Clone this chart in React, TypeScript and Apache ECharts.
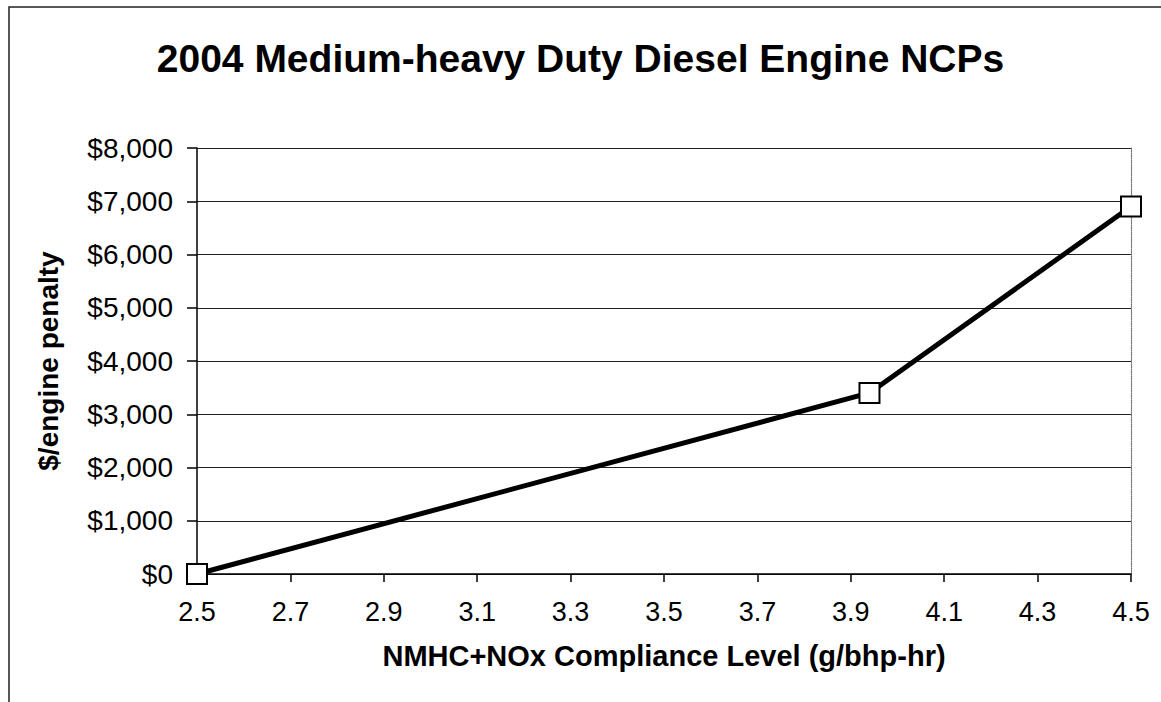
import React, { useEffect, useRef } from "react";
import * as echarts from "echarts";

const titleText = "2004 Medium-heavy Duty Diesel Engine NCPs";
const xAxisTitle = "NMHC+NOx Compliance Level (g/bhp-hr)";
const yAxisTitle = "$/engine penalty";
const complianceLevels = [2.5, 3.94, 4.5];
const penalties = [0, 3400, 6900];

const FONT = "'Liberation Sans', Arial, sans-serif";

export default function App() {
  const ref = useRef<HTMLDivElement>(null);
  useEffect(() => {
    if (!ref.current) return;
    const chart = echarts.init(ref.current, null, { renderer: "svg" });
    chart.setOption({
      animation: false,
      backgroundColor: "#ffffff",
      textStyle: { fontFamily: FONT },
      title: {
        text: titleText,
        left: "center",
        top: 34,
        textStyle: { fontFamily: FONT, fontSize: 39, fontWeight: "bold", color: "#000" },
      },
      graphic: [
        {
          type: "rect",
          shape: { x: 9, y: 7, width: 1300, height: 900 },
          style: { fill: "none", stroke: "#222", lineWidth: 1.5 },
          silent: true,
        },
      ],
      grid: { left: 197, top: 148, right: 30, bottom: 128 },
      xAxis: {
        type: "value",
        min: 2.5,
        max: 4.5,
        interval: 0.2,
        name: xAxisTitle,
        nameLocation: "middle",
        nameGap: 67,
        nameTextStyle: { fontFamily: FONT, fontSize: 29, fontWeight: "bold", color: "#000" },
        axisLine: { show: true, onZero: false, lineStyle: { color: "#000", width: 1.5 } },
        axisTick: { show: true, length: 8, lineStyle: { color: "#000", width: 1.5 } },
        axisLabel: {
          margin: 24,
          fontFamily: FONT,
          fontSize: 27,
          color: "#000",
          formatter: (v: number) => v.toFixed(1),
        },
        splitLine: { show: false },
      },
      yAxis: [
        {
          type: "value",
          min: 0,
          max: 8000,
          interval: 1000,
          name: yAxisTitle,
          nameLocation: "middle",
          nameGap: 135,
          nameTextStyle: { fontFamily: FONT, fontSize: 28, fontWeight: "bold", color: "#000" },
          axisLine: { show: true, lineStyle: { color: "#000", width: 1.5 } },
          axisTick: { show: true, length: 10, lineStyle: { color: "#000", width: 1.5 } },
          axisLabel: {
            margin: 24,
            fontFamily: FONT,
            fontSize: 28,
            color: "#000",
            formatter: (v: number) => "$" + v.toLocaleString("en-US"),
          },
          splitLine: { show: true, lineStyle: { color: "#222", width: 1.2 } },
        },
        {
          type: "value",
          min: 0,
          max: 8000,
          interval: 1000,
          position: "right",
          axisLine: { show: true, lineStyle: { color: "#777", width: 1.2, type: "dotted" } },
          axisTick: { show: false },
          axisLabel: { show: false },
          splitLine: { show: false },
        },
      ],
      series: [
        {
          type: "line",
          data: complianceLevels.map((x, i) => [x, penalties[i]]),
          clip: false,
          symbol: "rect",
          symbolSize: 20,
          lineStyle: { color: "#000", width: 5 },
          itemStyle: { color: "#fff", borderColor: "#000", borderWidth: 2 },
          z: 5,
        },
      ],
    });
    return () => chart.dispose();
  }, []);
  return (
    <div
      ref={ref}
      style={{ position: "fixed", left: 0, top: 0, width: 1161, height: 702, background: "#fff" }}
    />
  );
}
